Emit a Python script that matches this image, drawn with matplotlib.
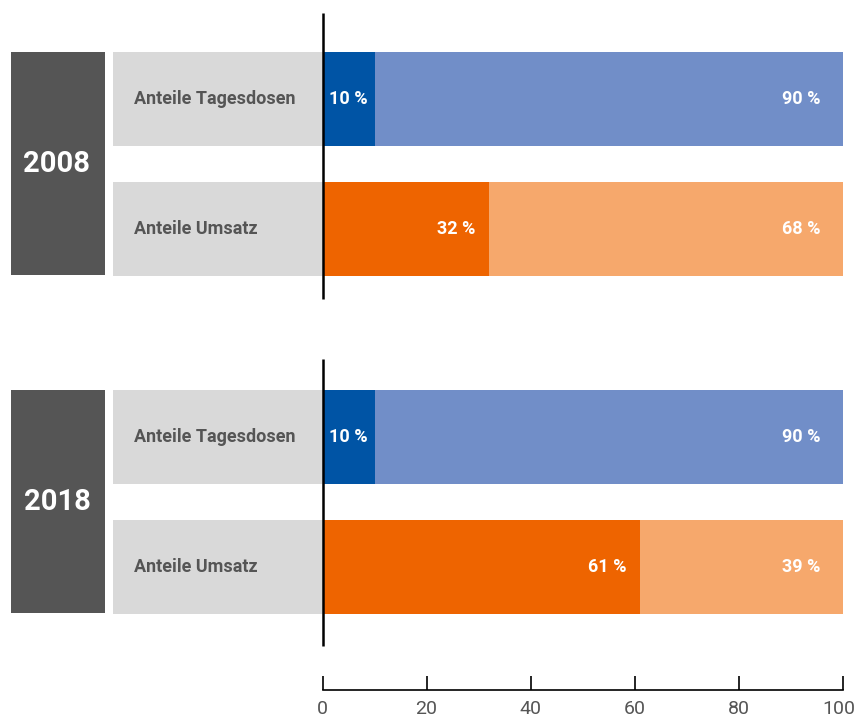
import matplotlib.pyplot as plt
from matplotlib.patches import Rectangle
from matplotlib.transforms import ScaledTranslation

jahre = ['2008', '2018']
kategorien = ['Anteile Tagesdosen', 'Anteile Umsatz']
# Anteil der ersten (dunklen) Teilbalken in %, Rest = 100 - Wert
werte = {
    '2008': [10, 32],
    '2018': [10, 61],
}
ticks = [0, 20, 40, 60, 80, 100]

dunkel = ['#0054a5', '#ee6400']
hell = ['#718ec8', '#f6a86c']
grau_dunkel = '#555555'
grau_hell = '#d9d9d9'

plt.rcParams['font.family'] = ['Roboto', 'DejaVu Sans']

W, H = 857, 720
fig = plt.figure(figsize=(W / 100, H / 100), dpi=100)
px = 5.2  # Pixel pro Prozentpunkt
x0 = 322.5
ax = fig.add_axes([0, 0, 1, 1])
ax.set_xlim(-x0 / px, (W - x0) / px)
ax.set_ylim(H, 0)
ax.axis('off')

# y-Positionen (Pixel) der Balkenoberkanten je Jahr
blocks = [52, 390]
linien = [(13, 299), (359, 646)]
bar_h = 94
gap = 130

for j, jahr in enumerate(jahre):
    top = blocks[j]
    # Jahres-Kasten
    ax.add_patch(Rectangle(((11 - x0) / px, top), (105 - 11) / px, gap + bar_h - 1,
                           color=grau_dunkel, lw=0))
    ax.text((57 - x0) / px, top + (gap + bar_h) / 2, jahr, color='white',
            fontsize=21, fontweight='bold', ha='center', va='center')
    for i, kat in enumerate(kategorien):
        y = top + i * gap
        ax.add_patch(Rectangle(((113 - x0) / px, y), (x0 - 113) / px, bar_h,
                               color=grau_hell, lw=0))
        ax.text((134 - x0) / px, y + bar_h / 2, kat, color=grau_dunkel,
                fontsize=13, fontweight='bold', ha='left', va='center')
        v = werte[jahr][i]
        ax.barh(y + bar_h / 2, v, height=bar_h, color=dunkel[i], lw=0)
        ax.barh(y + bar_h / 2, 100 - v, left=v, height=bar_h, color=hell[i], lw=0)
        if v <= 12:
            ax.text(v / 2, y + bar_h / 2, f'{v} %', color='white', fontsize=13,
                    fontweight='bold', ha='center', va='center')
        else:
            ax.text(v - 2.6, y + bar_h / 2, f'{v} %', color='white', fontsize=13,
                    fontweight='bold', ha='right', va='center')
        ax.text(100 - 4.2, y + bar_h / 2, f'{100 - v} %', color='white', fontsize=13,
                fontweight='bold', ha='right', va='center')
    # Null-Linie
    ax.plot([0, 0], linien[j], color='black', lw=1.8, solid_capstyle='butt')

# x-Achse unten
ax2 = fig.add_axes([x0 / W, (H - 690) / H, 520 / W, 0.001])
ax2.set_xlim(0, 100)
ax2.set_xticks(ticks)
ax2.set_yticks([])
for s in ['top', 'left', 'right']:
    ax2.spines[s].set_visible(False)
ax2.spines['bottom'].set_linewidth(1.2)
ax2.tick_params(axis='x', direction='in', length=10, width=1.2, pad=7,
                labelsize=14, labelcolor=grau_dunkel)
ax2.patch.set_alpha(0)
lbl = ax2.get_xticklabels()
lbl[-1].set_transform(lbl[-1].get_transform()
                      + ScaledTranslation(-4 / 100, 0, fig.dpi_scale_trans))

fig.savefig('out.png', dpi=100)
